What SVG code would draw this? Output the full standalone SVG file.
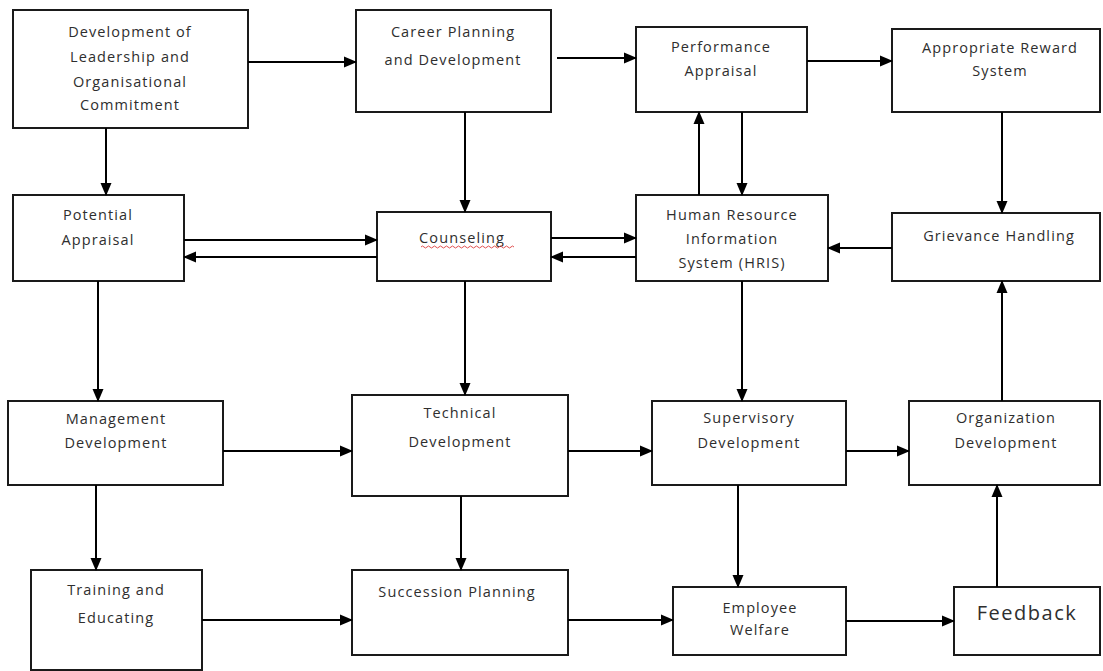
<svg xmlns="http://www.w3.org/2000/svg" width="1103" height="671" viewBox="0 0 1103 671">
<defs>
<marker id="ah" markerUnits="userSpaceOnUse" markerWidth="13" markerHeight="12" viewBox="0 0 13 12" refX="12" refY="6" orient="auto">
<path d="M0,0.5 L13,6 L0,11.5 Z" fill="#000"/>
</marker>
</defs>
<style>
.box{fill:#fff;stroke:#1a1a1a;stroke-width:2}
.t{font-family:"Open Sans","Noto Sans","Liberation Sans",sans-serif;font-size:14.5px;fill:#2e2e2e;text-anchor:middle;letter-spacing:1.1px}
.big{font-size:20px;letter-spacing:1.5px}
.c line{stroke:#000;stroke-width:2;marker-end:url(#ah)}
</style>
<rect width="1103" height="671" fill="#fff"/>
<g id="n-leadership"><rect class="box" x="13" y="10" width="235" height="118"/>
<text class="t" x="130" y="37">Development of</text><text class="t" x="130" y="62">Leadership and</text><text class="t" x="130" y="87">Organisational</text><text class="t" x="130" y="110">Commitment</text></g>
<g id="n-career"><rect class="box" x="356" y="10" width="195" height="102"/>
<text class="t" x="453" y="37">Career Planning</text><text class="t" x="453" y="65">and Development</text></g>
<g id="n-performance"><rect class="box" x="636" y="27" width="171" height="85"/>
<text class="t" x="721" y="52">Performance</text><text class="t" x="721" y="76">Appraisal</text></g>
<g id="n-reward"><rect class="box" x="892" y="29" width="208" height="83"/>
<text class="t" x="1000" y="53">Appropriate Reward</text><text class="t" x="1000" y="76">System</text></g>
<g id="n-potential"><rect class="box" x="13" y="195" width="171" height="86"/>
<text class="t" x="98" y="220">Potential</text><text class="t" x="98" y="245">Appraisal</text></g>
<g id="n-counseling"><rect class="box" x="377" y="212" width="174" height="69"/>
<text class="t" x="462" y="243">Counseling</text>
<path d="M421,247 q1.5,-2 3,0 t3,0 t3,0 t3,0 t3,0 t3,0 t3,0 t3,0 t3,0 t3,0 t3,0 t3,0 t3,0 t3,0 t3,0 t3,0 t3,0 t3,0 t3,0 t3,0 t3,0 t3,0 t3,0 t3,0 t3,0 t3,0 t3,0 t3,0 t3,0 t3,0 t3,0" fill="none" stroke="#e05050" stroke-width="1"/></g>
<g id="n-hris"><rect class="box" x="636" y="195" width="192" height="86"/>
<text class="t" x="732" y="220">Human Resource</text><text class="t" x="732" y="244">Information</text><text class="t" x="732" y="268">System (HRIS)</text></g>
<g id="n-grievance"><rect class="box" x="892" y="213" width="208" height="68"/>
<text class="t" x="999" y="241">Grievance Handling</text></g>
<g id="n-management"><rect class="box" x="8" y="401" width="215" height="84"/>
<text class="t" x="116" y="424">Management</text><text class="t" x="116" y="448">Development</text></g>
<g id="n-technical"><rect class="box" x="352" y="395" width="216" height="101"/>
<text class="t" x="460" y="418">Technical</text><text class="t" x="460" y="447">Development</text></g>
<g id="n-supervisory"><rect class="box" x="652" y="401" width="194" height="84"/>
<text class="t" x="749" y="423">Supervisory</text><text class="t" x="749" y="448">Development</text></g>
<g id="n-orgdev"><rect class="box" x="909" y="401" width="191" height="84"/>
<text class="t" x="1006" y="423">Organization</text><text class="t" x="1006" y="448">Development</text></g>
<g id="n-training"><rect class="box" x="31" y="570" width="171" height="100"/>
<text class="t" x="116" y="595">Training and</text><text class="t" x="116" y="623">Educating</text></g>
<g id="n-succession"><rect class="box" x="352" y="570" width="216" height="85"/>
<text class="t" x="457" y="597">Succession Planning</text></g>
<g id="n-welfare"><rect class="box" x="673" y="587" width="173" height="68"/>
<text class="t" x="760" y="613">Employee</text><text class="t" x="760" y="635">Welfare</text></g>
<g id="n-feedback"><rect class="box" x="954" y="587" width="146" height="68"/>
<text class="t big" x="1027" y="620">Feedback</text></g>
<g id="connectors" class="c">
<line x1="248" y1="62" x2="356" y2="62"/>
<line x1="106" y1="128" x2="106" y2="195"/>
<line x1="557" y1="58" x2="636" y2="58"/>
<line x1="465" y1="112" x2="465" y2="212"/>
<line x1="807" y1="61" x2="892" y2="61"/>
<line x1="699" y1="195" x2="699" y2="112"/>
<line x1="742" y1="112" x2="742" y2="195"/>
<line x1="1002" y1="112" x2="1002" y2="213"/>
<line x1="184" y1="240" x2="377" y2="240"/>
<line x1="377" y1="257" x2="184" y2="257"/>
<line x1="551" y1="238" x2="636" y2="238"/>
<line x1="636" y1="257" x2="551" y2="257"/>
<line x1="892" y1="248" x2="828" y2="248"/>
<line x1="98" y1="281" x2="98" y2="401"/>
<line x1="465" y1="281" x2="465" y2="395"/>
<line x1="742" y1="281" x2="742" y2="401"/>
<line x1="1002" y1="401" x2="1002" y2="281"/>
<line x1="223" y1="451" x2="352" y2="451"/>
<line x1="568" y1="451" x2="652" y2="451"/>
<line x1="846" y1="451" x2="909" y2="451"/>
<line x1="96" y1="485" x2="96" y2="570"/>
<line x1="461" y1="496" x2="461" y2="570"/>
<line x1="738" y1="485" x2="738" y2="587"/>
<line x1="997" y1="587" x2="997" y2="485"/>
<line x1="202" y1="620" x2="352" y2="620"/>
<line x1="568" y1="620" x2="673" y2="620"/>
<line x1="846" y1="621" x2="954" y2="621"/>
</g>
</svg>
